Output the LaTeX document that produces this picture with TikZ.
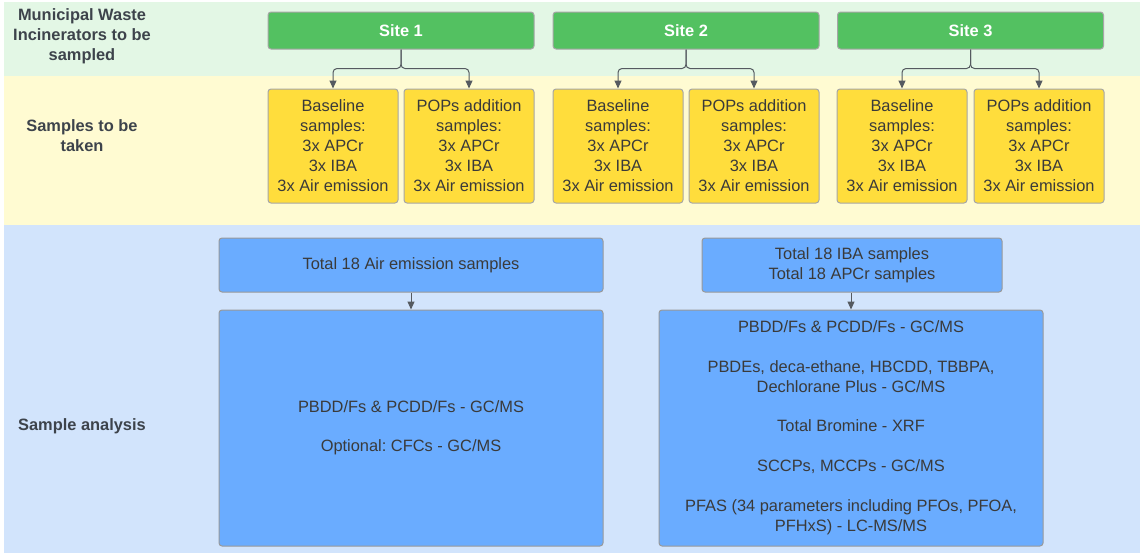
\documentclass[tikz,border=0pt]{standalone}
\usepackage{fontspec}
\setmainfont{Liberation Sans}
\usepackage{xcolor}
\usepackage{tikz}
\usetikzlibrary{arrows.meta, positioning}
\frenchspacing
\definecolor{bandgreen}{HTML}{E3F7E5}
\definecolor{bandyellow}{HTML}{FFFBD2}
\definecolor{bandblue}{HTML}{D2E4FC}
\definecolor{sitegreen}{HTML}{53C161}
\definecolor{sampleyellow}{HTML}{FFDD3C}
\definecolor{analysisblue}{HTML}{6AACFF}
\definecolor{textgrey}{HTML}{3A3A3A}
\definecolor{labelgrey}{HTML}{3D434B}
\definecolor{linegrey}{HTML}{555A60}
\tikzset{
  boxfont/.style={font=\fontsize{16.4}{20}\selectfont},
  sitebox/.style={boxfont, draw=black!35, line width=1pt, fill=sitegreen, rounded corners=3pt,
    minimum width=266pt, minimum height=37pt, text=white, font=\fontsize{16.4}{20}\selectfont\bfseries},
  samplebox/.style={boxfont, draw=black!35, line width=1pt, fill=sampleyellow, rounded corners=3pt,
    minimum width=130pt, minimum height=114pt, text=textgrey, align=center, inner sep=0pt},
  analysisbox/.style={boxfont, draw=black!40, line width=1pt, fill=analysisblue, rounded corners=3pt,
    text=textgrey, align=center, inner sep=0pt},
  bandlabel/.style={text=labelgrey, align=center, font=\fontsize{16.4}{20}\selectfont\bfseries},
  link/.style={linegrey, line width=1pt, rounded corners=4pt, -{Triangle[length=8pt,width=7pt]}}
}

\begin{document}
\begin{tikzpicture}[x=1pt, y=-1pt]
  \useasboundingbox (0,0) rectangle (1142,554);

  % bands
  \fill[bandgreen] (4,2) rectangle (1140,76);
  \fill[bandyellow] (4,76) rectangle (1140,225);
  \fill[bandblue] (4,225) rectangle (1140,553);

  \node[bandlabel] (lblsites) at (82,36) {Municipal Waste\\Incinerators to be\\sampled};
  \node[bandlabel] (lblsamples) at (82,136) {Samples to be\\taken};
  \node[bandlabel] (lblanalysis) at (82,426) {Sample analysis};

  % sites and samples
  \node[sitebox] (site1) at (401,30.5) {Site 1};
  \node[sitebox] (site2) at (686,30.5) {Site 2};
  \node[sitebox] (site3) at (970.5,30.5) {Site 3};

  \node[samplebox] (base1) at (333,146) {Baseline\\samples:\\3x APCr\\3x IBA\\3x Air emission};
  \node[samplebox] (pops1) at (469,146) {POPs addition\\samples:\\3x APCr\\3x IBA\\3x Air emission};
  \node[samplebox] (base2) at (618,146) {Baseline\\samples:\\3x APCr\\3x IBA\\3x Air emission};
  \node[samplebox] (pops2) at (754,146) {POPs addition\\samples:\\3x APCr\\3x IBA\\3x Air emission};
  \node[samplebox] (base3) at (902,146) {Baseline\\samples:\\3x APCr\\3x IBA\\3x Air emission};
  \node[samplebox] (pops3) at (1039,146) {POPs addition\\samples:\\3x APCr\\3x IBA\\3x Air emission};

  \foreach \n in {1,2,3} {
    \draw[link] (site\n.south) -- ++(0,19) -| (base\n.north);
    \draw[link] (site\n.south) -- ++(0,19) -| (pops\n.north);
  }

  % analysis
  \node[analysisbox, minimum width=384pt, minimum height=54pt] (airtotal) at (411,265) {Total 18 Air emission samples};
  \node[analysisbox, minimum width=384pt, minimum height=236pt] (airtests) at (411,428)
    {PBDD/Fs \& PCDD/Fs - GC/MS\\[19pt]Optional: CFCs - GC/MS};
  \node[analysisbox, minimum width=300pt, minimum height=54pt] (ashtotal) at (852,265) {Total 18 IBA samples\\Total 18 APCr samples};
  \node[analysisbox, minimum width=384pt, minimum height=236pt] (ashtests) at (851,428)
    {PBDD/Fs \& PCDD/Fs - GC/MS\\[20pt]PBDEs, deca-ethane, HBCDD, TBBPA,\\Dechlorane Plus - GC/MS\\[19pt]Total Bromine - XRF\\[20pt]SCCPs, MCCPs - GC/MS\\[20pt]PFAS (34 parameters including PFOs, PFOA,\\PFHxS) - LC-MS/MS};

  \draw[link] (airtotal.south) -- (airtests.north);
  \draw[link] (ashtotal.south -| ashtests.north) -- (ashtests.north);
\end{tikzpicture}
\end{document}
